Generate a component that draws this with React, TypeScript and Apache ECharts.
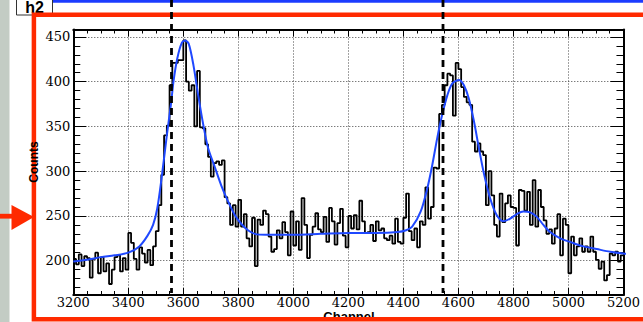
import React, { useEffect, useRef } from "react";
import * as echarts from "echarts";

const CHANNEL_MIN = 3200;
const CHANNEL_MAX = 5200;
const BIN_WIDTH = 10;
const COUNT_MIN = 161.7;
const COUNT_MAX = 458.3;

// histogram counts, one per 10-channel bin from 3200 to 5190
const counts = [
  202, 196, 207, 194, 205, 203, 181, 202, 209, 186,
  204, 188, 197, 174, 190, 204, 206, 188, 203, 190,
  231, 220, 202, 190, 215, 208, 198, 212, 195, 216,
  233, 262, 296, 340, 351, 396, 421, 421, 424, 424,
  446, 400, 390, 396, 350, 412, 349, 348, 330, 316,
  294, 309, 311, 307, 312, 271, 264, 240, 262, 238,
  268, 238, 252, 225, 216, 248, 194, 246, 240, 256,
  252, 227, 210, 213, 234, 225, 243, 232, 206, 255,
  217, 244, 212, 270, 240, 203, 229, 238, 253, 235,
  232, 249, 221, 259, 244, 218, 242, 258, 228, 215,
  250, 236, 251, 235, 267, 244, 231, 232, 240, 222,
  244, 234, 236, 225, 223, 228, 219, 247, 221, 219,
  248, 275, 233, 223, 236, 215, 244, 240, 282, 247,
  260, 304, 303, 364, 374, 396, 409, 407, 362, 421,
  414, 394, 383, 377, 374, 333, 322, 331, 322, 318,
  262, 300, 273, 240, 227, 275, 243, 264, 273, 260,
  259, 217, 279, 278, 256, 277, 240, 290, 238, 279,
  260, 245, 230, 235, 219, 236, 252, 206, 247, 240,
  186, 227, 206, 216, 225, 210, 216, 210, 227, 210,
  201, 191, 199, 178, 184, 208, 206, 210, 199, 206,
];

// fitted curve
const fitChannels = [
  3200, 3250, 3300, 3350, 3400, 3440, 3470, 3490, 3505, 3520, 3540, 3555, 3565, 3578,
  3594, 3607, 3620, 3637, 3655, 3673, 3690, 3714, 3738, 3763, 3787, 3811, 3835, 3860,
  3900, 3950, 4000, 4100, 4200, 4300, 4380, 4410, 4432, 4463, 4487, 4505, 4523, 4541,
  4560, 4578, 4602, 4620, 4638, 4657, 4675, 4693, 4715, 4739, 4764, 4788, 4812, 4836,
  4861, 4885, 4909, 4933, 4970, 5006, 5055, 5103, 5152, 5200, 5265,
];
const fitValues = [
  199, 201, 204, 206, 209, 216, 228, 240, 258, 290, 340, 375, 402, 426,
  443, 446, 442, 418, 383, 351, 326, 305, 284, 266, 251, 241, 234, 230,
  229, 229, 229, 230, 231, 231, 232, 234, 238, 255, 281, 307, 337, 363,
  385, 398, 402, 396, 381, 355, 325, 297, 270, 251, 244, 247, 252, 255,
  254, 249, 240, 232, 225, 221, 216, 213, 210, 208, 206,
];

const markerChannels = [3557, 4544];
const yMinorTicks = [
  170, 180, 190, 210, 220, 230, 240, 260, 270, 280, 290, 310, 320, 330, 340,
  360, 370, 380, 390, 410, 420, 430, 440,
];

const RED = "#ff2a00";

export default function App() {
  const ref = useRef<HTMLDivElement>(null);

  useEffect(() => {
    const chart = echarts.init(ref.current!, null, { renderer: "svg" });

    const hist = counts.map((v, i) => [CHANNEL_MIN + i * BIN_WIDTH, v]);
    hist.push([CHANNEL_MAX, counts[counts.length - 1]]);
    const fit = fitChannels.map((c, i) => [c, fitValues[i]]);

    const labelFont = { fontFamily: "DejaVu Serif", fontSize: 13, color: "#000" };
    const frame = { show: true, lineStyle: { color: "#000", width: 2 } };
    const tickStyle = { color: "#000", width: 1 };
    const dotted = { show: true, lineStyle: { color: "#444", width: 1, type: [1, 2] } };
    const plain = (v: number) => String(Math.round(v));

    const xBase = {
      type: "value",
      min: CHANNEL_MIN,
      max: CHANNEL_MAX,
      interval: 200,
      axisLine: frame,
      axisTick: { inside: true, length: 7, lineStyle: tickStyle },
      minorTick: { show: true, splitNumber: 4, length: 4, lineStyle: tickStyle },
    };
    const yBase = {
      type: "value",
      min: COUNT_MIN,
      max: COUNT_MAX,
      splitNumber: 6,
      axisLine: frame,
      axisTick: { inside: true, length: 13, lineStyle: tickStyle },
    };
    const yMinor = {
      type: "value",
      min: COUNT_MIN,
      max: COUNT_MAX,
      axisLine: { show: false },
      axisLabel: { show: false },
      splitLine: { show: false },
      axisTick: { show: true, inside: true, length: 7, lineStyle: tickStyle, customValues: yMinorTicks },
    };

    chart.setOption({
      animation: false,
      grid: { left: 73.3, right: 18.5, top: 29.5, bottom: 27 },
      xAxis: [
        {
          ...xBase,
          position: "bottom",
          axisLabel: { ...labelFont, margin: 1, formatter: plain },
          splitLine: dotted,
        },
        {
          ...xBase,
          position: "top",
          axisLabel: { show: false },
          splitLine: { show: false },
        },
      ],
      yAxis: [
        {
          ...yBase,
          position: "left",
          axisLabel: { ...labelFont, margin: 3, showMinLabel: false, showMaxLabel: false, formatter: plain },
          splitLine: dotted,
        },
        {
          ...yBase,
          position: "right",
          axisLabel: { show: false },
          splitLine: { show: false },
        },
        { ...yMinor, position: "left" },
        { ...yMinor, position: "right" },
      ],
      series: [
        {
          type: "line",
          name: "h2",
          step: "end",
          data: hist,
          symbol: "none",
          xAxisIndex: 0,
          yAxisIndex: 0,
          lineStyle: { color: "#000", width: 1.8 },
          z: 3,
        },
        {
          type: "line",
          name: "fit",
          smooth: 0.3,
          data: fit,
          symbol: "none",
          clip: false,
          xAxisIndex: 0,
          yAxisIndex: 0,
          lineStyle: { color: "#1f48ff", width: 2 },
          z: 4,
        },
      ],
    });

    const mx = markerChannels.map((c) => chart.convertToPixel({ xAxisIndex: 0 }, c) as number);

    chart.setOption({
      graphic: [
        { type: "rect", z: -10, silent: true, shape: { x: 0, y: 0, width: 9.5, height: 322 }, style: { fill: "#c3ccc4" } },
        { type: "rect", z: 5, silent: true, shape: { x: 53, y: 0, width: 600, height: 2.8 }, style: { fill: "#1c3cff" } },
        { type: "rect", z: 5, silent: true, shape: { x: 16.5, y: -3, width: 36, height: 18 }, style: { fill: "#fff", stroke: "#333", lineWidth: 1 } },
        {
          type: "text", z: 6, silent: true, x: 34.5, y: 15,
          style: { text: "h2", font: 'bold 16px "Liberation Sans"', fill: "#000", align: "center", verticalAlign: "bottom" },
        },
        {
          type: "text", z: 6, silent: true, x: 349, y: 310,
          style: { text: "Channel", font: 'bold 13px "Liberation Sans"', fill: "#000", align: "center", verticalAlign: "top" },
        },
        {
          type: "rect", z: 10, silent: true,
          shape: { x: 33.9, y: 14.75, width: 640, height: 304.5 },
          style: { fill: "none", stroke: RED, lineWidth: 4.5 },
        },
        {
          type: "text", z: 11, silent: true, x: 34, y: 162, rotation: Math.PI / 2,
          style: { text: "Counts", font: 'bold 12px "Liberation Sans"', fill: "#000", align: "center", verticalAlign: "middle" },
        },
        { type: "rect", z: 10, silent: true, shape: { x: 0, y: 213.8, width: 13, height: 4.8 }, style: { fill: RED } },
        {
          type: "polygon", z: 10, silent: true,
          shape: { points: [[11.5, 205], [34, 217], [11.5, 230]] },
          style: { fill: RED },
        },
        ...mx.map((x) => ({
          type: "line", z: 20, silent: true,
          shape: { x1: x, y1: 0, x2: x, y2: 293 },
          style: { stroke: "#000", lineWidth: 2.8, lineDash: [7, 5] },
        })),
      ],
    });

    return () => chart.dispose();
  }, []);

  return (
    <div
      ref={ref}
      style={{ position: "absolute", left: 0, top: 0, width: 643, height: 322, background: "#fff" }}
    />
  );
}
